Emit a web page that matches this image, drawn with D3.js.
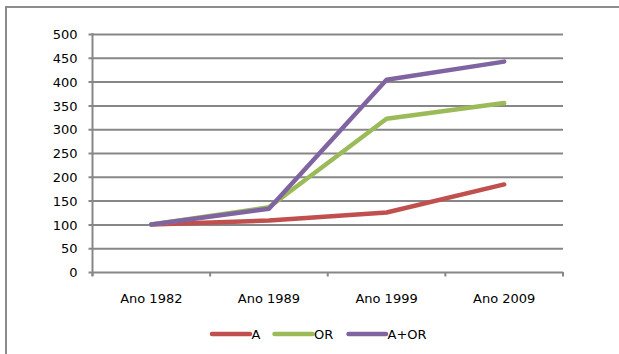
<!DOCTYPE html>
<html>
<head>
<meta charset="utf-8">
<script src="https://cdn.jsdelivr.net/npm/d3@7/dist/d3.min.js"></script>
<style>
  html, body { margin: 0; padding: 0; background: #fff; }
  svg { display: block; }
  text { font-family: "DejaVu Sans", sans-serif; fill: #000; }
</style>
</head>
<body>
<svg id="chart" width="619" height="354"></svg>
<script>
const categories = ["Ano 1982", "Ano 1989", "Ano 1999", "Ano 2009"];
const seriesNames = ["A", "OR", "A+OR"];
const seriesA = [100, 108, 125, 184];
const seriesOR = [100, 136, 322, 355];
const seriesAOR = [100, 133, 404, 442];
const yTicks = [0, 50, 100, 150, 200, 250, 300, 350, 400, 450, 500];
const colors = ["#C0504D", "#9BBB59", "#8064A2"];

(function () {
  const series = [seriesA, seriesOR, seriesAOR];
  const svg = d3.select("#chart");

  const plotLeft = 92.5, plotRight = 563, plotTop = 34, plotBottom = 272;
  const gridColor = "#878787";

  const x = d3.scaleBand().domain(categories).range([plotLeft, plotRight]);
  const y = d3.scaleLinear().domain([0, 500]).range([plotBottom, plotTop]);

  // frame: top and left edges
  svg.append("path")
    .attr("d", "M6,354 V7 H619")
    .attr("fill", "none")
    .attr("stroke", "#8c8c8c")
    .attr("stroke-width", 2);

  // horizontal gridlines with the y axis ticks
  const yAxis = d3.axisLeft(y).tickValues(yTicks).tickSize(-(plotRight - plotLeft)).tickSizeOuter(0).tickPadding(0);
  const gy = svg.append("g").attr("transform", `translate(${plotLeft},0)`).call(yAxis);
  gy.select(".domain").remove();
  gy.selectAll(".tick line")
    .attr("x1", -4)
    .attr("stroke", gridColor)
    .attr("stroke-width", 2);
  gy.selectAll(".tick text")
    .attr("x", -15)
    .attr("dy", "0.36em")
    .style("font-size", "13px")
    .style("font-family", "'DejaVu Sans', sans-serif")
    .attr("fill", "#000");

  // vertical axis line
  svg.append("line")
    .attr("x1", plotLeft).attr("x2", plotLeft)
    .attr("y1", plotTop - 1).attr("y2", plotBottom + 4)
    .attr("stroke", gridColor).attr("stroke-width", 2);

  // category axis: ticks at band boundaries
  const xAxis = d3.axisBottom(x).tickSize(0).tickSizeOuter(0).tickPadding(22);
  const gx = svg.append("g").attr("transform", `translate(0,${plotBottom})`).call(xAxis);
  gx.select(".domain").remove();
  gx.selectAll(".tick text")
    .style("font-size", "13px")
    .style("font-family", "'DejaVu Sans', sans-serif")
    .attr("fill", "#000");

  const boundaries = categories.map(c => x(c)).concat([plotRight]);
  svg.append("g").selectAll("line").data(boundaries).join("line")
    .attr("x1", d => d).attr("x2", d => d)
    .attr("y1", plotBottom).attr("y2", plotBottom + 4.5)
    .attr("stroke", gridColor).attr("stroke-width", 2);

  // series lines
  const line = d3.line()
    .x((d, i) => x(categories[i]) + x.bandwidth() / 2)
    .y(d => y(d));

  svg.append("g").selectAll("path").data(series).join("path")
    .attr("d", d => line(d))
    .attr("fill", "none")
    .attr("stroke", (d, i) => colors[i])
    .attr("stroke-width", 4.5)
    .attr("stroke-linecap", "round")
    .attr("stroke-linejoin", "round");

  // legend
  const legendItems = [
    { x0: 212, x1: 250, tx: 251.5 },
    { x0: 274.5, x1: 312.5, tx: 314 },
    { x0: 348.5, x1: 386, tx: 387.5 }
  ];
  const ly = 334;
  const lg = svg.append("g").selectAll("g").data(seriesNames).join("g");
  lg.append("line")
    .attr("x1", (d, i) => legendItems[i].x0)
    .attr("x2", (d, i) => legendItems[i].x1)
    .attr("y1", ly).attr("y2", ly)
    .attr("stroke", (d, i) => colors[i])
    .attr("stroke-width", 4.5)
    .attr("stroke-linecap", "round");
  lg.append("text")
    .attr("x", (d, i) => legendItems[i].tx)
    .attr("y", ly)
    .attr("dy", "0.36em")
    .style("font-size", "13px")
    .text(d => d);
})();
</script>
</body>
</html>
